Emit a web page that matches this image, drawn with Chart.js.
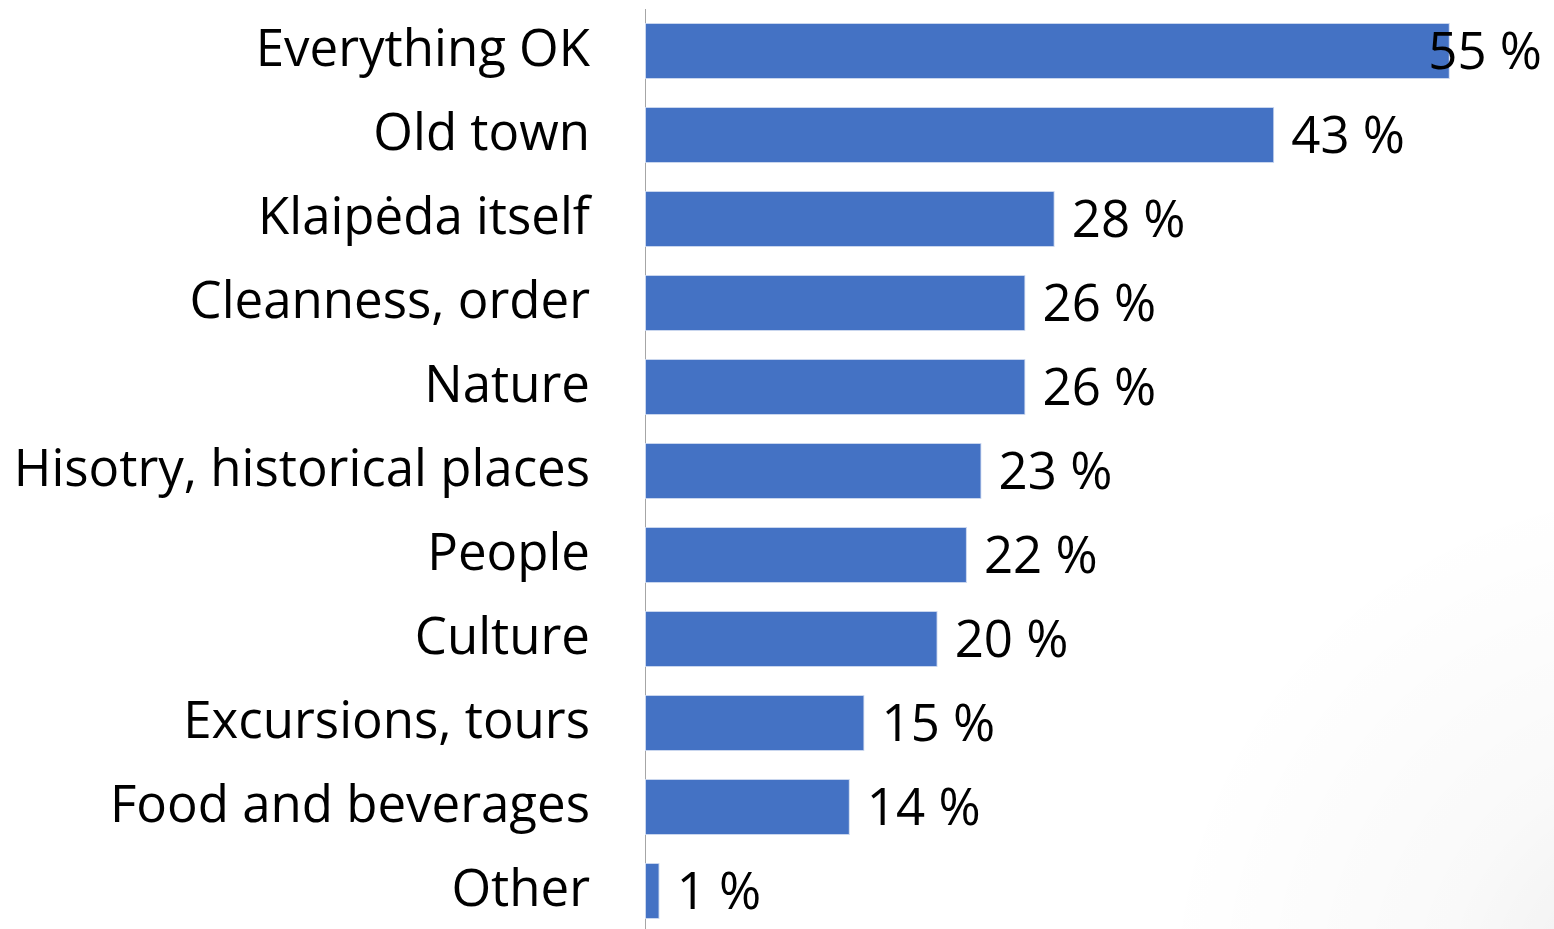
<!DOCTYPE html>
<html>
<head>
<meta charset="utf-8">
<script src="https://cdn.jsdelivr.net/npm/chart.js@4"></script>
<style>
  html, body { margin: 0; padding: 0; background: #fff; overflow: hidden; }
  #wrap { width: 1554px; height: 929px; overflow: hidden; position: relative; }
  #c { display: block; }
</style>
</head>
<body>
<div id="wrap"><canvas id="c" width="1554" height="933"></canvas></div>
<script>
// answers, share of respondents in %
const categories = ['Everything OK', 'Old town', 'Klaipėda itself', 'Cleanness, order', 'Nature',
  'Hisotry, historical places', 'People', 'Culture', 'Excursions, tours', 'Food and beverages', 'Other'];
const shares = [55, 43, 28, 26, 26, 23, 22, 20, 15, 14, 1];

const FONT = '"Open Sans", "DejaVu Sans", sans-serif';
const FONT_SIZE = 51;

// light shading in the lower right corner of the slide
const cornerShade = {
  id: 'cornerShade',
  beforeDraw(chart) {
    const ctx = chart.ctx, w = chart.width, h = chart.height;
    ctx.save();
    ctx.fillStyle = '#fff';
    ctx.fillRect(0, 0, w, h);
    const g = ctx.createRadialGradient(w + 120, h + 60, 0, w + 120, h + 60, 520);
    g.addColorStop(0, 'rgba(0,0,0,0.07)');
    g.addColorStop(0.45, 'rgba(0,0,0,0.025)');
    g.addColorStop(1, 'rgba(0,0,0,0)');
    ctx.fillStyle = g;
    ctx.fillRect(0, 0, w, h);
    ctx.restore();
  }
};

// "NN %" next to each bar, pulled back inside when it would run off the edge
const valueLabels = {
  id: 'valueLabels',
  afterDatasetsDraw(chart) {
    const ctx = chart.ctx;
    const meta = chart.getDatasetMeta(0);
    const maxRight = chart.width - 12;
    ctx.save();
    ctx.font = FONT_SIZE + 'px ' + FONT;
    ctx.fillStyle = '#000';
    ctx.textBaseline = 'middle';
    ctx.textAlign = 'left';
    meta.data.forEach((bar, i) => {
      const txt = shares[i] + ' %';
      const w = ctx.measureText(txt).width;
      let x = bar.x + 17;
      if (x + w > maxRight) x = maxRight - w;
      ctx.fillText(txt, x, bar.y + 3);
    });
    ctx.restore();
  }
};

new Chart(document.getElementById('c'), {
  type: 'bar',
  data: {
    labels: categories,
    datasets: [{
      data: shares,
      backgroundColor: '#4472C4',
      borderColor: '#c9d6ee',
      borderWidth: 1,
      borderSkipped: false,
      barPercentage: 0.667,
      categoryPercentage: 1
    }]
  },
  options: {
    indexAxis: 'y',
    responsive: false,
    animation: false,
    layout: { padding: { top: 9, right: 31, bottom: 0, left: 0 } },
    plugins: { legend: { display: false }, tooltip: { enabled: false } },
    scales: {
      x: {
        display: false,
        min: 0,
        max: 60
      },
      y: {
        afterFit(scale) {
          scale.width = 645;
          scale.paddingTop = 0;
          scale.paddingBottom = 0;
        },
        grid: { display: false, drawTicks: false },
        border: { display: true, color: '#a6a6a6', width: 1 },
        ticks: {
          color: '#000',
          padding: 55,
          font: { family: FONT, size: FONT_SIZE }
        }
      }
    }
  },
  plugins: [cornerShade, valueLabels]
});
</script>
</body>
</html>
